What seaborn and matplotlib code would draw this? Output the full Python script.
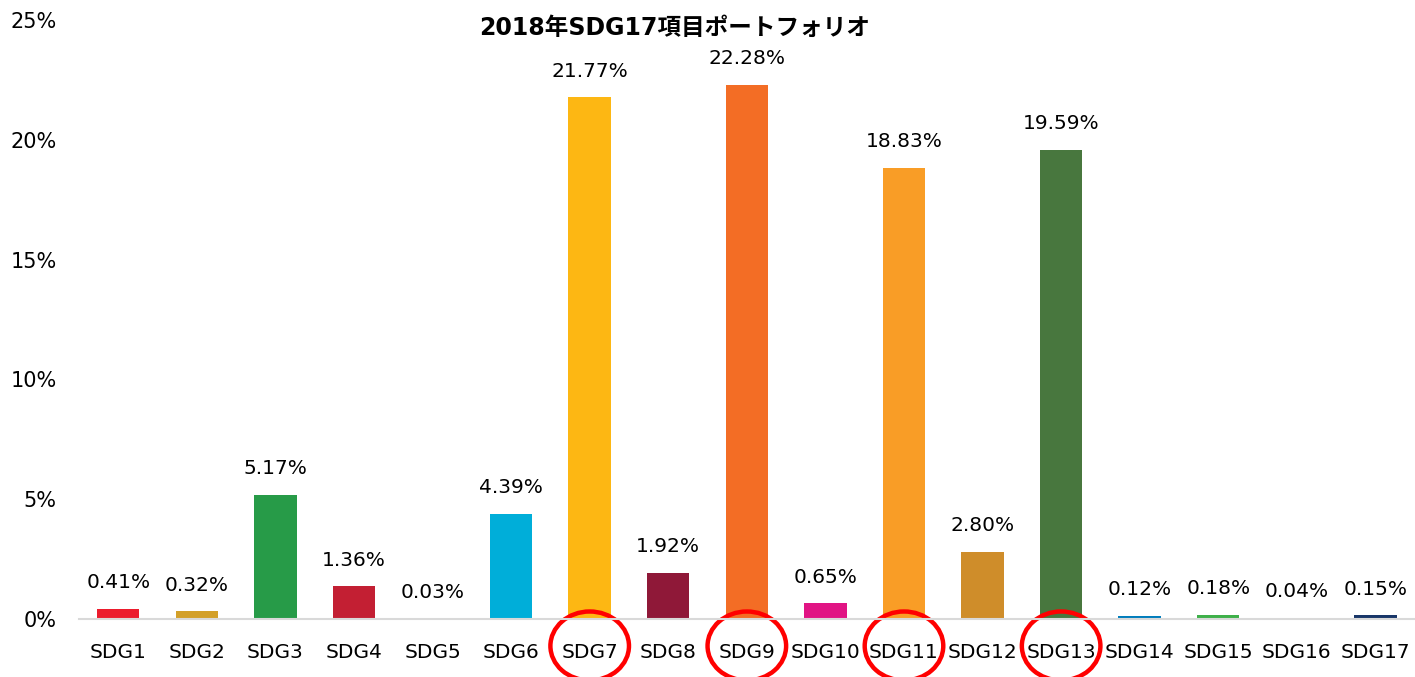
import matplotlib
matplotlib.use('Agg')
import matplotlib.pyplot as plt
from matplotlib.patches import Ellipse
import seaborn as sns
import pandas as pd

categories = ['SDG1', 'SDG2', 'SDG3', 'SDG4', 'SDG5', 'SDG6', 'SDG7', 'SDG8', 'SDG9',
              'SDG10', 'SDG11', 'SDG12', 'SDG13', 'SDG14', 'SDG15', 'SDG16', 'SDG17']
shares = [0.41, 0.32, 5.17, 1.36, 0.03, 4.39, 21.77, 1.92, 22.28,
          0.65, 18.83, 2.80, 19.59, 0.12, 0.18, 0.04, 0.15]
colors = ['#EC1C2D', '#D3A029', '#279B48', '#C31F33', '#EF402B', '#00AED9', '#FDB713', '#8F1838', '#F36D25',
          '#E11484', '#F99D26', '#CF8D2A', '#48773E', '#007DBC', '#3EB049', '#02558B', '#183668']
highlighted = ['SDG7', 'SDG9', 'SDG11', 'SDG13']
yticks = [0, 5, 10, 15, 20, 25]

sns.set_style('white')
plt.rcParams['font.family'] = ['DejaVu Sans', 'Noto Sans CJK JP']
plt.rcParams['text.color'] = 'black'
plt.rcParams['xtick.color'] = 'black'
plt.rcParams['ytick.color'] = 'black'

df = pd.DataFrame({'sdg': categories, 'share': shares})

fig = plt.figure(figsize=(14.15, 6.77), dpi=100)
ax = fig.add_axes([0.0558, 0.0857, 0.944, 0.8848])
sns.barplot(data=df, x='sdg', y='share', hue='sdg', palette=colors, legend=False,
            width=0.54, ax=ax, saturation=1, linewidth=0)

for c in ax.containers:
    ax.bar_label(c, labels=[f'{v:.2f}%' for v in c.datavalues], padding=12, fontsize=14.5,
                 color='black')

ax.set_ylim(0, 25)
ax.set_yticks(yticks)
ax.set_yticklabels([f'{t}%' for t in yticks], fontsize=15)
ax.tick_params(axis='y', length=0, pad=16)
ax.tick_params(axis='x', length=0, pad=17, labelsize=14.5)
ax.set_xlabel('')
ax.set_ylabel('')
ax.set_xlim(-0.5, len(categories) - 0.5)
for s in ['top', 'right', 'left']:
    ax.spines[s].set_visible(False)
ax.spines['bottom'].set_color('#D9D9D9')
ax.spines['bottom'].set_linewidth(1.5)

for name in highlighted:
    i = categories.index(name)
    e = Ellipse((i, -0.045), width=1.0, height=0.115, transform=ax.get_xaxis_transform(),
                fill=False, edgecolor='#FF0000', linewidth=3.2, clip_on=False)
    ax.add_patch(e)

fig.text(0.477, 0.958, '2018年SDG17項目ポートフォリオ', ha='center', va='center',
         fontsize=17, fontweight='bold', color='black')

fig.savefig('out.png', dpi=100)
